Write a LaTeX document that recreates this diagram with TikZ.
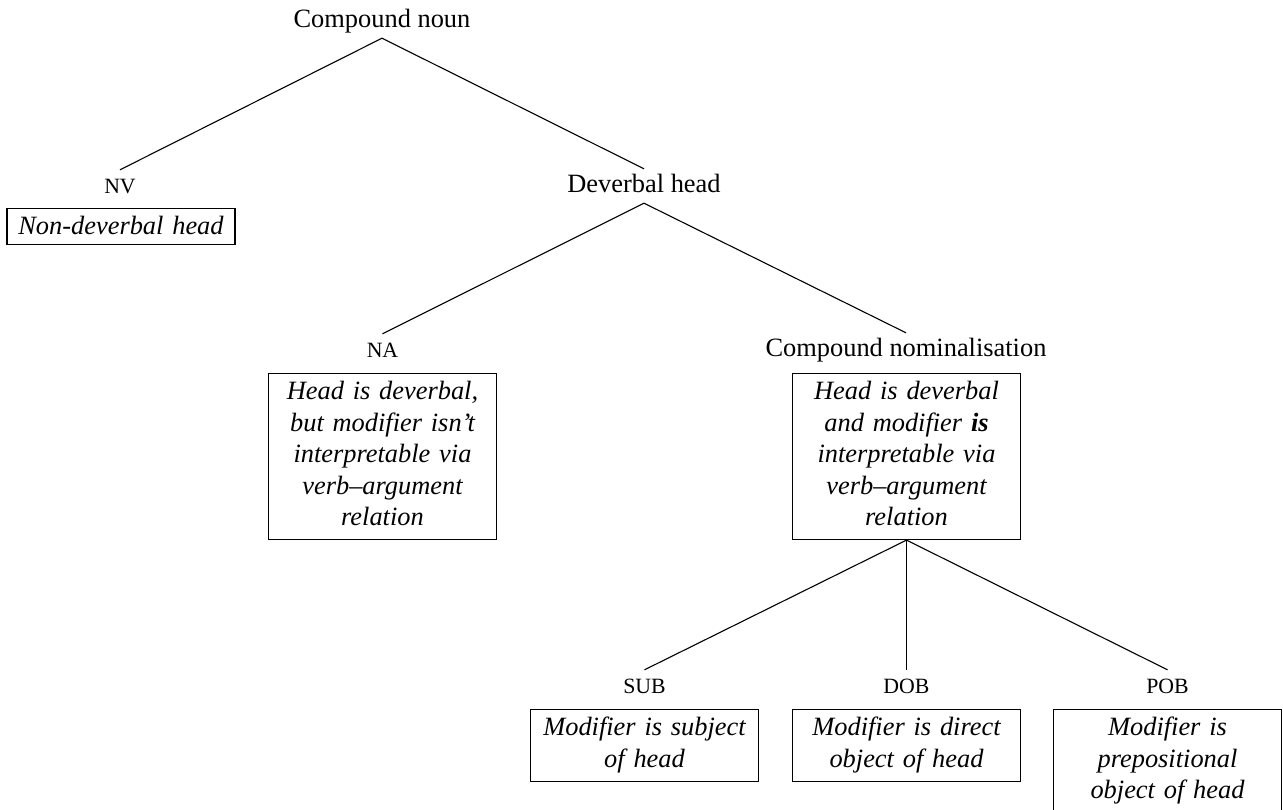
\documentclass[tikz,border=0pt]{standalone}
\usepackage{fontspec}
\setmainfont{Liberation Serif}
\newcommand\firststrut{\rule{0pt}{21pt}}
\newcommand\laststrut{\rule[-9pt]{0pt}{9pt}}
\newcommand\nvstrut{\rule[-5pt]{0pt}{5pt}}
\tikzset{
  lbl/.style={anchor=base, inner sep=0pt, text height=23pt, text depth=11pt, font=\fontsize{26.4}{31}\selectfont},
  tag/.style={lbl, font=\fontsize{21.8}{25}\selectfont},
  box/.style={draw, line width=1.1pt, anchor=north, align=center, text width=218pt,
    inner xsep=5pt, inner ysep=5pt, font=\fontsize{26.4}{31.5}\selectfont\itshape},
  edge/.style={line width=1.1pt},
}
\begin{document}
\begin{tikzpicture}[x=1pt,y=-1pt]
\useasboundingbox (0,0) rectangle (1283,809);
% labels
\node[lbl] (root) at (382,27) {Compound noun};
\node[tag] (nv) at (120,193) {NV};
\node[lbl] (dh) at (644,192) {Deverbal head};
\node[tag] (na) at (382.5,357) {NA};
\node[lbl] (cn) at (906,356) {Compound nominalisation};
\node[tag] (sub) at (644.5,693) {SUB};
\node[tag] (dob) at (906.5,693) {DOB};
\node[tag] (pob) at (1167.5,693) {POB};
% boxes
\node[box] (nvb) at (121,208) {\firststrut Non-deverbal head\nvstrut};
\node[box] (nab) at (382.5,373) {\firststrut Head is deverbal,\\ but modifier isn’t\\ interpretable via\\ verb–argument\\ relation\laststrut};
\node[box] (cnb) at (906.5,373) {\firststrut Head is deverbal\\ and modifier \textbf{is}\\ interpretable via\\ verb–argument\\ relation\laststrut};
\node[box] (subb) at (644.5,709) {\firststrut Modifier is subject\\ of head\laststrut};
\node[box] (dobb) at (906.5,709) {\firststrut Modifier is direct\\ object of head\laststrut};
\node[box] (pobb) at (1167.5,709) {\firststrut Modifier is\\ prepositional\\ object of head\laststrut};
% connectors
\draw[edge] (root.south) -- (nv.north);
\draw[edge] (root.south) -- (dh.north);
\draw[edge] (dh.south) -- (na.north);
\draw[edge] (dh.south) -- (cn.north);
\draw[edge] (cnb.south) -- (sub.north);
\draw[edge] (cnb.south) -- (dob.north);
\draw[edge] (cnb.south) -- (pob.north);
\end{tikzpicture}
\end{document}
